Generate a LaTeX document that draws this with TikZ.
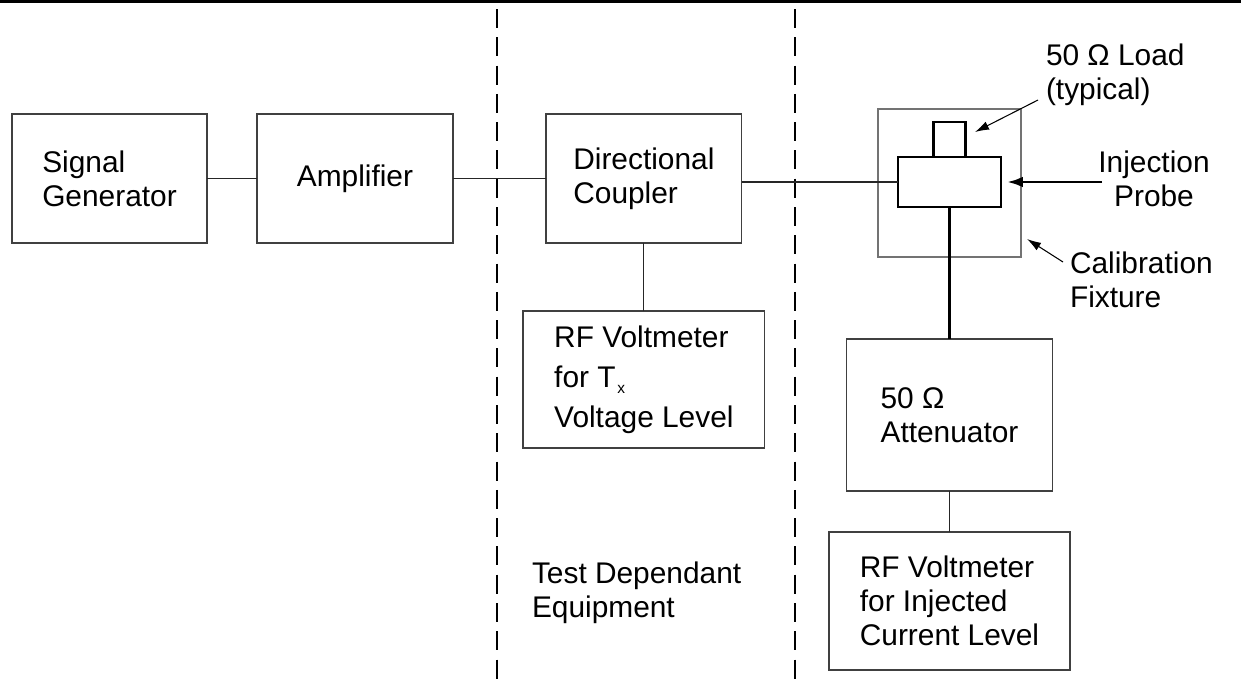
\documentclass[tikz,border=0pt]{standalone}
\usepackage{fontspec}
\setmainfont{Liberation Sans}
\usetikzlibrary{positioning,arrows.meta}

\begin{document}
\begin{tikzpicture}[
	x=0.02cm, y=-0.02cm,
	every node/.style={
		font=\fontsize{17}{19.4}\selectfont,
		inner sep=0pt,
		outer sep=0pt
	},
	unit/.style={
		draw=black!75,
		line width=0.7pt,
		align=left,
		minimum height=2.58cm
	},
	probepart/.style={draw, line width=1.6pt},
	wire/.style={draw=black!85, line width=0.6pt},
	divider/.style={line width=#1, dash pattern=on 10.8pt off 5.3pt},
	pointer/.style={draw, line width=0.6pt, -{Latex[length=8pt,width=5pt]}}
]
\useasboundingbox (0,0) rectangle (1241,687);
\draw[line width=1.2pt] (0,1.5) -- (1241,1.5);
\draw[divider=1pt] (497,9) -- (497,687);
\draw[divider=1.5pt] (795,9) -- (795,687);

\node[unit, minimum width=3.9cm] (siggen) at (109.5,178.5) {Signal\\Generator};
\node[unit, minimum width=3.92cm, right=1cm of siggen] (amp) {Amplifier};
\node[unit, minimum width=3.92cm, right=1.86cm of amp] (coupler) {Directional\\Coupler};
\node[unit, minimum width=4.84cm, minimum height=2.74cm, below=1.36cm of coupler,
	font=\fontsize{17}{22.8}\selectfont] (txmeter)
	{RF Voltmeter\\for T\kern1pt\raisebox{-3.4pt}{\fontsize{8.8}{9}\selectfont x}\\Voltage Level};

\node[draw=black!55, line width=0.6pt, minimum width=2.86cm, minimum height=2.96cm] (fixture) at (949.5,183) {};
\node[probepart, minimum width=2.06cm, minimum height=1cm] (probe) at (949.5,182) {};
\node[probepart, minimum width=0.64cm, minimum height=0.7cm, above=0pt of probe] (load) {};
\node[unit, minimum width=4.12cm, minimum height=3.04cm, below=2.64cm of probe] (atten) {50 Ω\\Attenuator};
\node[unit, minimum width=4.82cm, minimum height=2.76cm, below=0.82cm of atten] (injmeter)
	{RF Voltmeter\\for Injected\\Current Level};

\node[anchor=west, align=left] (loadlbl) at (1046,75) {50 Ω Load\\(typical)};
\node[align=center] (probelbl) at (1154,178.5) {Injection\\Probe};
\node[anchor=west, align=left] (fixlbl) at (1070,280) {Calibration\\Fixture};
\node[anchor=west, align=left] (testlbl) at (532,593) {Test Dependant\\Equipment};

\coordinate (loadtail) at (1038,100);
\coordinate (loadtip) at (975,132);
\coordinate (probetail) at (1102,182);
\coordinate (probetip) at (1007,182);
\coordinate (fixtail) at (1063,262);
\coordinate (fixtip) at (1027,239);

\draw[wire] (siggen) -- (amp);
\draw[wire] (amp) -- (coupler);
\draw[wire] (coupler.east |- probe.west) -- (probe.west);
\draw[wire] (coupler) -- (txmeter);
\draw[line width=1.6pt] (probe) -- (atten);
\draw[wire] (atten) -- (injmeter);

\draw[pointer] (loadtail) -- (loadtip);
\draw[pointer, line width=1.6pt, -{Latex[length=9pt,width=6pt]}] (probetail) -- (probetip);
\draw[pointer] (fixtail) -- (fixtip);
\end{tikzpicture}
\end{document}
